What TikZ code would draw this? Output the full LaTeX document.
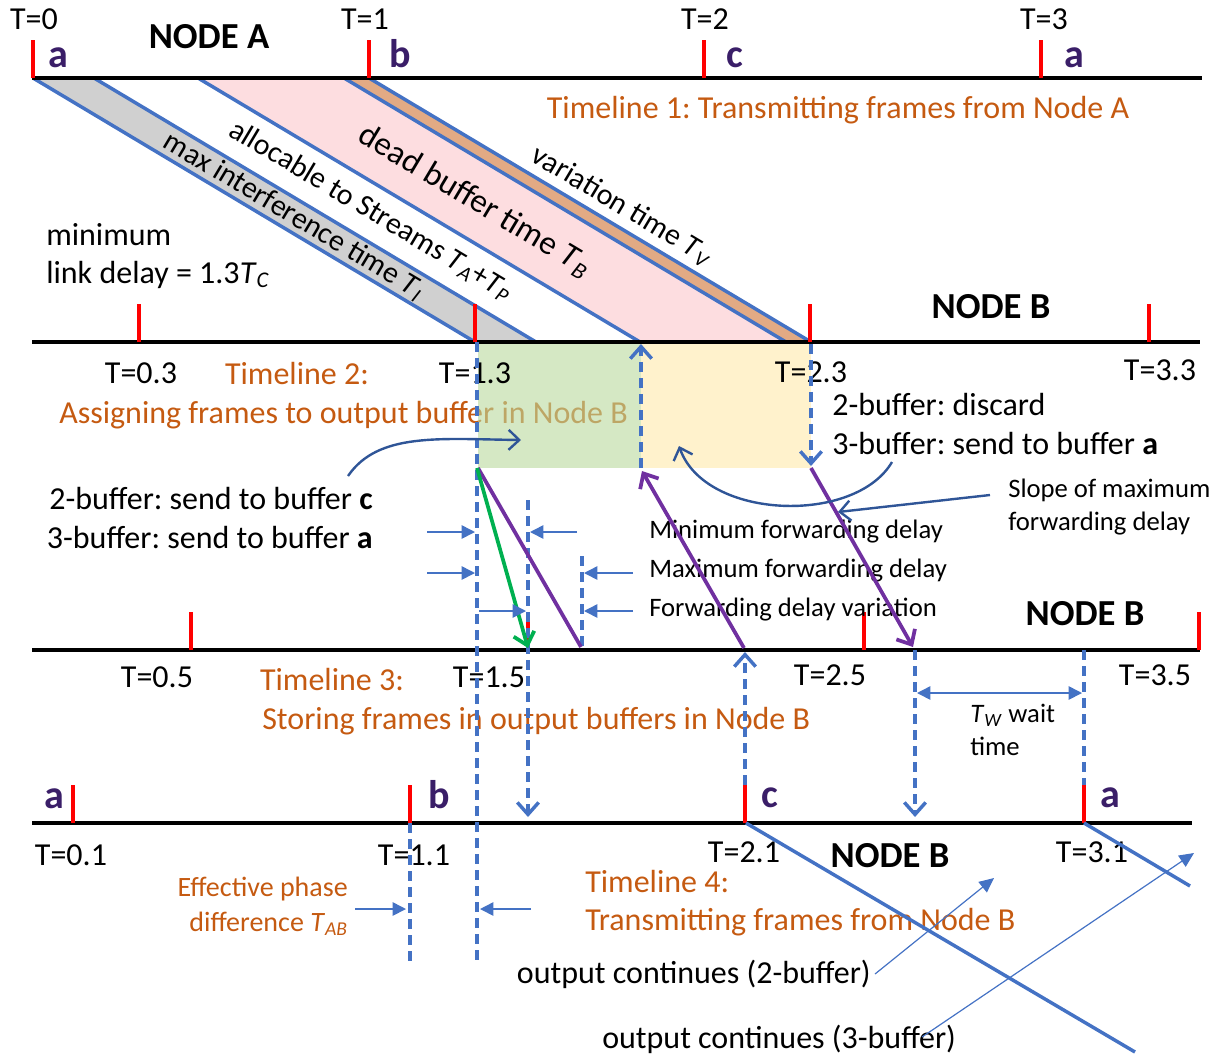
\documentclass[tikz,border=0pt]{standalone}
\usepackage{fontspec}
\setmainfont{Carlito}
\usetikzlibrary{arrows.meta}
\definecolor{tlorange}{RGB}{197,90,17}
\definecolor{tlblue}{RGB}{68,114,196}
\definecolor{tldark}{RGB}{47,85,151}
\definecolor{tlpurple}{RGB}{112,48,160}
\definecolor{tlgreen}{RGB}{0,176,80}
\definecolor{lettercol}{RGB}{58,30,104}
\definecolor{bandgray}{RGB}{208,208,208}
\definecolor{bandpink}{RGB}{253,221,224}
\definecolor{bandbrown}{RGB}{226,170,132}
\definecolor{zonegreen}{RGB}{185,217,157}
\definecolor{zoneyellow}{RGB}{255,242,204}
\newcommand{\Tsub}[1]{\textit{T}\textsubscript{\textit{#1}}}
\newcommand{\fsMain}{\fontsize{24}{28}\selectfont}
\newcommand{\fsNote}{\fontsize{20}{24}\selectfont}
\newcommand{\fsPhase}{\fontsize{21}{25}\selectfont}
\newcommand{\fsNode}{\fontsize{27.5}{32}\selectfont\bfseries}
\newcommand{\fsLet}{\fontsize{30}{34}\selectfont\bfseries}
\newcommand{\fsSlant}{\fontsize{22.5}{26}\selectfont}
\newcommand{\fsDead}{\fontsize{25}{29}\selectfont}
\frenchspacing
\begin{document}
\begin{tikzpicture}[x=0.75pt,y=-0.75pt,
  tline/.style={line width=3.6pt,black},
  redtick/.style={red,line width=2.8pt},
  bandline/.style={tlblue,line width=2.6pt},
  dline/.style={tlblue,line width=2.6pt,dash pattern=on 7.5pt off 4.5pt},
  barb/.style={-{Straight Barb[length=9pt,width=16pt]}},
  dimarrow/.style={tlblue,line width=1.2pt,-{Triangle[length=10pt,width=10pt]}},
  thinarrow/.style={tlblue,line width=0.9pt,-{Triangle[length=11pt,width=10pt]}},
  curvearrow/.style={tldark,line width=1.8pt,-{Straight Barb[length=8pt,width=15pt]}},
  fwdline/.style={line width=2.8pt},
  lbl/.style={font=\fsMain,inner sep=0pt},
  note/.style={font=\fsNote,inner sep=0pt},
  otext/.style={font=\fsMain,text=tlorange,inner sep=0pt},
  nodelbl/.style={font=\fsNode,inner sep=0pt},
  letter/.style={font=\fsLet,text=lettercol,inner sep=0pt},
  slant/.style={font=\fsSlant,inner sep=0pt,rotate=-30.85}
]
\useasboundingbox (0,0) rectangle (1216,1057);

% ---------- band end points ----------
\coordinate (A0) at (33,78);  \coordinate (A1) at (94,78);
\coordinate (A2) at (198,78); \coordinate (A3) at (344,78);
\coordinate (A4) at (369,78);
\coordinate (B0) at (475,342); \coordinate (B1) at (536,342);
\coordinate (B2) at (640,342); \coordinate (B3) at (786,342);
\coordinate (B4) at (811,342);

% ---------- band fills ----------
\fill[bandgray]  (A0) -- (A1) -- (B1) -- (B0) -- cycle;
\fill[bandpink]  (A2) -- (A3) -- (B3) -- (B2) -- cycle;
\fill[bandbrown] (A3) -- (A4) -- (B4) -- (B3) -- cycle;
\draw[bandline] (A0) -- (B0);
\draw[bandline] (A1) -- (B1);
\draw[bandline] (A2) -- (B2);
\draw[bandline] (A3) -- (B3);
\draw[bandline] (A4) -- (B4);

% ---------- text under the green zone ----------
\node[otext,anchor=base west] (tl2b) at (59,423) {Assigning frames to output buffer in Node B};

% ---------- buffer zones ----------
\fill[zonegreen,opacity=0.6] (478,344) rectangle (641,468);
\fill[zoneyellow] (641,344) rectangle (811,468);

% ---------- timelines ----------
\draw[tline] (32,78) -- (1202,78);
\draw[tline] (32,342) -- (1200,342);
\draw[tline] (32,650) -- (1200,650);
\draw[tline] (32,823) -- (1192,823);

% ---------- red ticks ----------
\foreach \x in {33,369,704,1041} \draw[redtick] (\x,78) -- (\x,40);
\foreach \x in {139,475,810,1149} \draw[redtick] (\x,342) -- (\x,304);
\foreach \x in {191,528,864,1199} \draw[redtick] (\x,650) -- (\x,612);
\foreach \x in {73,410,745,1084} \draw[redtick] (\x,823) -- (\x,785);

% ---------- timeline 1 texts ----------
\node[lbl,anchor=base] (t0) at (34,29) {T=0};
\node[lbl,anchor=base] (t1) at (365,29) {T=1};
\node[lbl,anchor=base] (t2) at (705,29) {T=2};
\node[lbl,anchor=base] (t3) at (1044,29) {T=3};
\node[nodelbl,anchor=base] (nodeA) at (209,48) {NODE A};
\node[letter,anchor=base] (l1a) at (58,67) {a};
\node[letter,anchor=base] (l1b) at (400,67) {b};
\node[letter,anchor=base] (l1c) at (735,67) {c};
\node[letter,anchor=base] (l1d) at (1074,67) {a};
\node[otext,anchor=base] (tl1) at (838,118) {Timeline 1: Transmitting frames from Node A};

% ---------- slanted band texts ----------
\node[slant] (sI) at (294,216) {max interference time \Tsub{I}};
\node[slant] (sAP) at (371,211) {allocable to Streams \Tsub{A}+\Tsub{P}};
\node[slant,font=\fsDead] (sB) at (475,201) {dead buffer time \Tsub{B}};
\node[slant] (sV) at (622,206) {variation time \Tsub{V}};

\node[lbl,anchor=base west] (min1) at (46,245) {minimum};
\node[lbl,anchor=base west] (min2) at (46,283) {link delay = 1.3\Tsub{C}};

% ---------- timeline 2 texts ----------
\node[lbl,anchor=base] (t03) at (141,383) {T=0.3};
\node[lbl,anchor=base] (t13) at (475,383) {T=1.3};
\node[lbl,anchor=base] (t23) at (811,382) {T=2.3};
\node[lbl,anchor=base] (t33) at (1160,380) {T=3.3};
\node[nodelbl,anchor=base] (nodeB1) at (991,318) {NODE B};
\node[otext,anchor=base] (tl2a) at (297,384) {Timeline 2:};
\node[lbl,anchor=base west] (disc) at (832,415) {2-buffer: discard};
\node[lbl,anchor=base west] (senda) at (832,454) {3-buffer: send to buffer \textbf{a}};
\node[lbl,anchor=base east] (sendc2) at (373,509) {2-buffer: send to buffer \textbf{c}};
\node[lbl,anchor=base east] (senda3) at (373,548) {3-buffer: send to buffer \textbf{a}};
\node[note,anchor=base west] (slope1) at (1008,497) {Slope of maximum};
\node[note,anchor=base west] (slope2) at (1008,530) {forwarding delay};
\node[note,anchor=base west] (minfd) at (649,538) {Minimum forwarding delay};
\node[note,anchor=base west] (maxfd) at (649,577) {Maximum forwarding delay};
\node[note,anchor=base west] (varfd) at (649,616) {Forwarding delay variation};

% ---------- timeline 3 texts ----------
\node[nodelbl,anchor=base] (nodeB2) at (1085,625) {NODE B};
\node[lbl,anchor=base] (t05) at (157,687) {T=0.5};
\node[lbl,anchor=base] (t15) at (489,687) {T=1.5};
\node[lbl,anchor=base] (t25) at (830,685) {T=2.5};
\node[lbl,anchor=base] (t35) at (1155,685) {T=3.5};
\node[otext,anchor=base] (tl3a) at (332,690) {Timeline 3:};
\node[otext,anchor=base west] (tl3b) at (262,729) {Storing frames in output buffers in Node B};
\node[note,anchor=base west] (tw1) at (970,722) {\Tsub{W} wait};
\node[note,anchor=base west] (tw2) at (970,755) {time};

% ---------- timeline 4 texts ----------
\node[letter,anchor=base] (l4a) at (54,808) {a};
\node[letter,anchor=base] (l4b) at (439,808) {b};
\node[letter,anchor=base] (l4c) at (770,807) {c};
\node[letter,anchor=base] (l4d) at (1110,807) {a};
\node[lbl,anchor=base] (t01) at (71,865) {T=0.1};
\node[lbl,anchor=base] (t11) at (414,865) {T=1.1};
\node[lbl,anchor=base] (t21) at (744,862) {T=2.1};
\node[lbl,anchor=base] (t31) at (1092,862) {T=3.1};
\node[nodelbl,anchor=base] (nodeB3) at (890,867) {NODE B};
\node[font=\fsPhase,text=tlorange,inner sep=0pt,anchor=base east] (ph1) at (348,896) {Effective phase};
\node[font=\fsPhase,text=tlorange,inner sep=0pt,anchor=base east] (ph2) at (348,931) {difference \Tsub{AB}};
\node[otext,anchor=base west] (tl4a) at (585,892) {Timeline 4:};
\node[otext,anchor=base west] (tl4b) at (585,930) {Transmitting frames from Node B};
\node[lbl,anchor=base east] (oc2) at (871,983) {output continues (2-buffer)};
\node[lbl,anchor=base west] (oc3) at (602,1048) {output continues (3-buffer)};

% ---------- dashed verticals ----------
\draw[dline] (477,342) -- (477,962);
\draw[dline,barb] (641,468) -- (641,344);
\draw[dline,barb] (811,344) -- (811,466);
\draw[dline,barb] (528,500) -- (528,817);
\draw[dline] (582,556) -- (582,647);
\draw[dline,barb] (745,785) -- (745,652);
\draw[dline,barb] (915,650) -- (915,817);
\draw[dline] (1084,650) -- (1084,785);
\draw[dline] (410,823) -- (410,962);

% ---------- forwarding lines ----------
\draw[tlpurple,fwdline] (478,468) -- (581,647);
\draw[tlpurple,fwdline,barb] (744,648) -- (642,471);
\draw[tlpurple,fwdline,barb] (811,468) -- (913,647);
\draw[tlgreen,fwdline,barb] (477,468) -- (528,648);

% ---------- dimension arrows ----------
\draw[dimarrow] (427,532) -- (475,532);
\draw[dimarrow] (577,532) -- (530,532);
\draw[dimarrow] (427,573) -- (475,573);
\draw[dimarrow] (633,573) -- (584,573);
\draw[dimarrow] (479,611) -- (526,611);
\draw[dimarrow] (633,611) -- (584,611);
\draw[dimarrow] (355,909) -- (406,909);
\draw[dimarrow] (531,909) -- (480,909);
\draw[tlblue,line width=1.2pt,{Triangle[length=10pt,width=10pt]}-{Triangle[length=10pt,width=10pt]}] (917,693) -- (1082,693);

% ---------- curved / slope arrows ----------
\draw[curvearrow] (348,476) .. controls (378,432) and (440,439) .. (521,440);
\draw[curvearrow] (892,462) .. controls (855,525) and (705,520) .. (679,446);
\draw[curvearrow] (990,495) -- (838,512);

% ---------- output lines ----------
\draw[bandline] (746,823) -- (1135,1052);
\draw[bandline] (1084,823) -- (1190,886);
\draw[thinarrow] (875,974) -- (994,878);
\draw[thinarrow] (922,1037) -- (1194,853);
\end{tikzpicture}
\end{document}
